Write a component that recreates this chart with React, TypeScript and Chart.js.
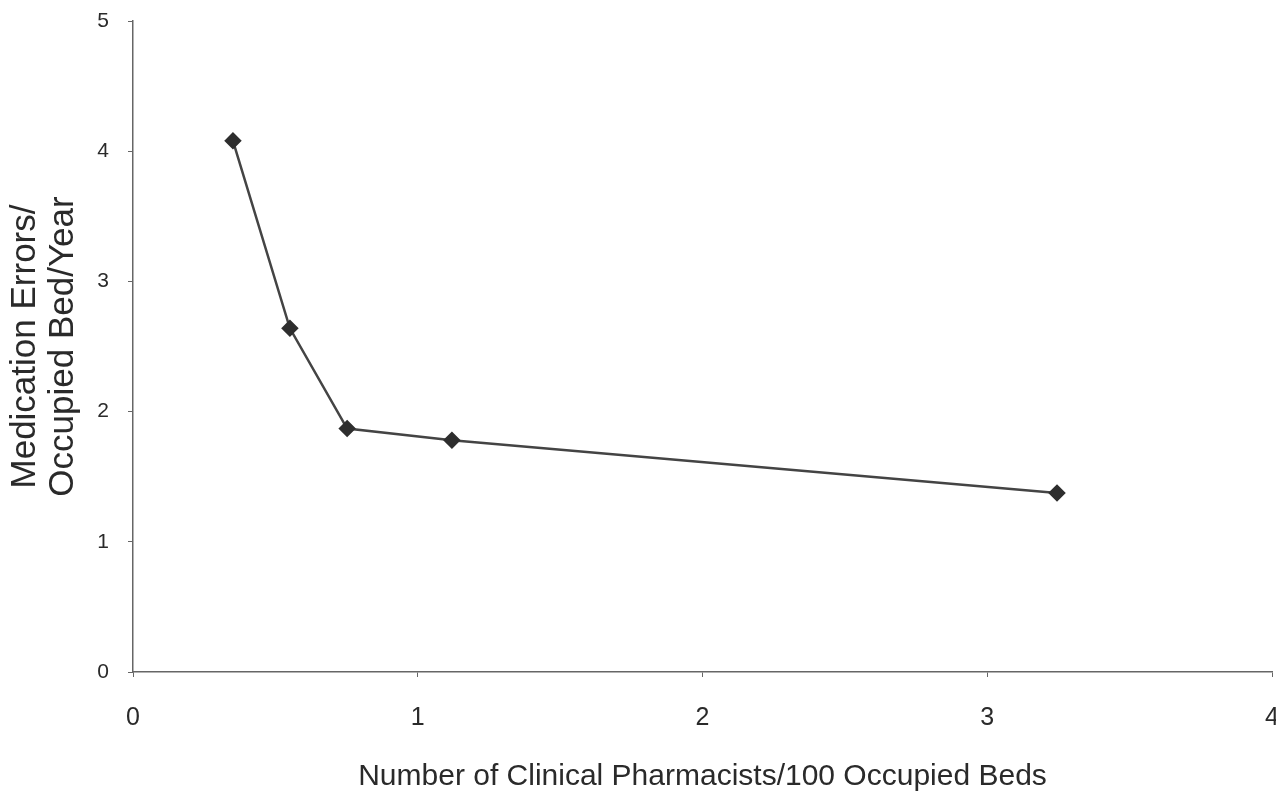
import React, { useEffect, useRef } from "react";
import { Chart, registerables } from "chart.js";

Chart.register(...registerables);

const pharmacistsPer100Beds = [0.351, 0.551, 0.752, 1.12, 3.245];
const errorsPerBedYear = [4.08, 2.64, 1.87, 1.78, 1.375];
const xTitle = "Number of Clinical Pharmacists/100 Occupied Beds";
const yTitleLines = ["Medication Errors/", "Occupied Bed/Year"];

const FONT = "'Liberation Sans', Arial, sans-serif";

export default function App() {
  const ref = useRef<HTMLCanvasElement | null>(null);

  useEffect(() => {
    const canvas = ref.current;
    if (!canvas) return;
    const chart = new Chart(canvas, {
      type: "scatter",
      data: {
        datasets: [
          {
            data: pharmacistsPer100Beds.map((x, i) => ({ x, y: errorsPerBedYear[i] })),
            showLine: true,
            borderColor: "#444",
            borderWidth: 2.5,
            backgroundColor: "#2e2e2e",
            pointBackgroundColor: "#2e2e2e",
            pointBorderColor: "#2e2e2e",
            pointStyle: "rectRot",
            pointRadius: 7,
            tension: 0,
          },
        ],
      },
      options: {
        responsive: false,
        animation: false,
        layout: { autoPadding: false, padding: { top: 21, right: 4, left: 0, bottom: 0 } },
        plugins: { legend: { display: false }, tooltip: { enabled: false } },
        scales: {
          x: {
            type: "linear",
            min: 0,
            max: 4,
            ticks: {
              stepSize: 1,
              padding: 26,
              color: "#2a2a2a",
              font: { family: FONT, size: 25 },
            },
            grid: { drawOnChartArea: false, drawTicks: true, tickLength: 5, color: "#666" },
            border: { display: true, color: "#666", width: 1.5 },
            title: {
              display: true,
              text: xTitle,
              color: "#2a2a2a",
              font: { family: FONT, size: 30 },
              padding: { top: 0, bottom: 8 },
            },
            afterFit: (s: any) => {
              s.height = 131;
              s.paddingLeft = 0;
              s.paddingRight = 0;
            },
          },
          y: {
            type: "linear",
            min: 0,
            max: 5,
            ticks: {
              stepSize: 1,
              padding: 19,
              color: "#2a2a2a",
              font: { family: FONT, size: 21 },
            },
            grid: { drawOnChartArea: false, drawTicks: true, tickLength: 5, color: "#666" },
            border: { display: true, color: "#666", width: 1.5 },
            title: {
              display: true,
              text: yTitleLines,
              color: "#2a2a2a",
              font: { family: FONT, size: 35, lineHeight: 1.1 },
              padding: { top: 6, bottom: 0 },
            },
            afterFit: (s: any) => {
              s.width = 133;
              s.paddingTop = 0;
              s.paddingBottom = 0;
            },
          },
        },
      },
    });
    return () => chart.destroy();
  }, []);

  return (
    <div style={{ position: "fixed", left: 0, top: 0, width: 1276, height: 803, background: "#fff" }}>
      <canvas ref={ref} width={1276} height={803} style={{ display: "block" }} />
    </div>
  );
}
